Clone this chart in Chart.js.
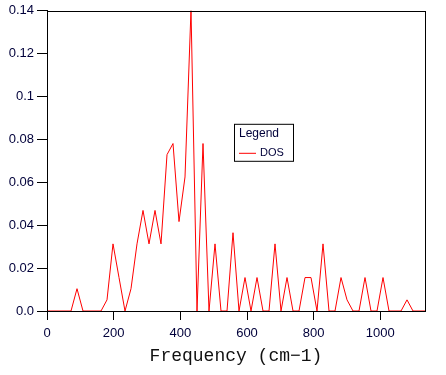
<!DOCTYPE html>
<html>
<head>
<meta charset="utf-8">
<script src="https://cdn.jsdelivr.net/npm/chart.js@4.4.0/dist/chart.umd.min.js"></script>
<style>
  html, body { margin: 0; padding: 0; background: #ffffff; }
  #wrap { width: 446px; height: 375px; }
</style>
</head>
<body>
<div id="wrap"><canvas id="dosChart" width="446" height="375"></canvas></div>
<script>
// frequency bins (cm-1)
var frequencies = [
    0, 18, 36, 54, 72, 90, 108, 126, 144, 162,
    180, 198, 216, 234, 252, 270, 288, 306, 324, 342,
    360, 378, 396, 414, 432, 450, 468, 486, 504, 522,
    540, 558, 576, 594, 612, 630, 648, 666, 684, 702,
    720, 738, 756, 774, 792, 810, 828, 846, 864, 882,
    900, 918, 936, 954, 972, 990, 1008, 1026, 1044, 1062,
    1080, 1098, 1116, 1134
];
var dosValues = [
    0, 0, 0, 0, 0, 0.0104, 0, 0, 0, 0,
    0.0052, 0.0313, 0.0156, 0, 0.0104, 0.0313, 0.0469, 0.0313, 0.0469, 0.0313,
    0.0729, 0.0781, 0.0417, 0.0625, 0.1406, 0, 0.0781, 0, 0.0313, 0,
    0, 0.0365, 0, 0.0156, 0, 0.0156, 0, 0, 0.0313, 0,
    0.0156, 0, 0, 0.0156, 0.0156, 0, 0.0313, 0, 0, 0.0156,
    0.0052, 0, 0, 0.0156, 0, 0, 0.0156, 0, 0, 0,
    0.0052, 0, 0, 0
];
var xTicks = [0, 200, 400, 600, 800, 1000];
var xTickLabels = ['0', '200', '400', '600', '800', '1000'];
var yTicks = [0, 0.02, 0.04, 0.06, 0.08, 0.1, 0.12, 0.14];
var yTickLabels = ['0.0', '0.02', '0.04', '0.06', '0.08', '0.1', '0.12', '0.14'];

var textColor = '#00003a';

// box round the plot and the small legend inside it
var framePlugin = {
    id: 'frame',
    afterDraw: function (chart) {
        var ctx = chart.ctx;
        var a = chart.chartArea;
        ctx.save();
        ctx.strokeStyle = '#000000';
        ctx.lineWidth = 1;
        ctx.strokeRect(Math.round(a.left) + 0.5, Math.round(a.top) + 0.5,
            Math.round(a.right - a.left), Math.round(a.bottom - a.top));

        var ds = chart.data.datasets[0];
        var bx = a.left + 187, by = a.top + 113, bw = 59, bh = 37;
        ctx.fillStyle = '#ffffff';
        ctx.fillRect(bx, by, bw, bh);
        ctx.strokeRect(bx + 0.5, by + 0.5, bw, bh);
        ctx.fillStyle = textColor;
        ctx.textBaseline = 'middle';
        ctx.font = '12px "Liberation Sans", Arial, sans-serif';
        ctx.fillText('Legend', bx + 5, by + 10);
        ctx.strokeStyle = ds.borderColor;
        ctx.beginPath();
        ctx.moveTo(bx + 5, by + 29.5);
        ctx.lineTo(bx + 22, by + 29.5);
        ctx.stroke();
        ctx.font = '11px "Liberation Sans", Arial, sans-serif';
        ctx.fillText(ds.label, bx + 26, by + 29);
        ctx.restore();
    }
};

function labelFor(list, labels, value) {
    var k = list.indexOf(value);
    return k >= 0 ? labels[k] : '';
}

var ctx = document.getElementById('dosChart').getContext('2d');
var dosChart = new Chart(ctx, {
    type: 'line',
    data: {
        datasets: [{
            label: 'DOS',
            data: frequencies.map(function (f, i) { return { x: f, y: dosValues[i] }; }),
            borderColor: '#ff0000',
            borderWidth: 1,
            pointRadius: 0,
            tension: 0,
            fill: false
        }]
    },
    options: {
        responsive: false,
        animation: false,
        layout: { padding: { top: 9, right: 21, left: 0, bottom: 0 } },
        plugins: {
            legend: { display: false },
            tooltip: { enabled: false }
        },
        scales: {
            x: {
                type: 'linear',
                min: 0,
                max: 1134,
                afterBuildTicks: function (scale) {
                    scale.ticks = xTicks.map(function (v) { return { value: v }; });
                },
                afterFit: function (scale) { scale.height = 64; },
                grid: { drawOnChartArea: false, drawTicks: true, tickLength: 9, color: '#000000' },
                border: { display: true, color: '#000000', width: 1 },
                ticks: {
                    color: textColor,
                    padding: 6,
                    maxRotation: 0,
                    font: { family: '"Liberation Sans", Arial, sans-serif', size: 13 },
                    callback: function (value) { return labelFor(xTicks, xTickLabels, value); }
                },
                title: {
                    display: true,
                    text: 'Frequency (cm\u22121)',
                    color: '#111111',
                    padding: { top: 0, bottom: 8 },
                    font: { family: '"Liberation Mono", monospace', size: 18 }
                }
            },
            y: {
                min: 0,
                max: 0.14,
                afterBuildTicks: function (scale) {
                    scale.ticks = yTicks.map(function (v) { return { value: v }; });
                },
                afterFit: function (scale) { scale.width = 47; },
                grid: { drawOnChartArea: false, drawTicks: true, tickLength: 10, color: '#000000' },
                border: { display: true, color: '#000000', width: 1 },
                ticks: {
                    color: textColor,
                    padding: 3,
                    font: { family: '"Liberation Sans", Arial, sans-serif', size: 13 },
                    callback: function (value) { return labelFor(yTicks, yTickLabels, value); }
                }
            }
        }
    },
    plugins: [framePlugin]
});
</script>
</body>
</html>
